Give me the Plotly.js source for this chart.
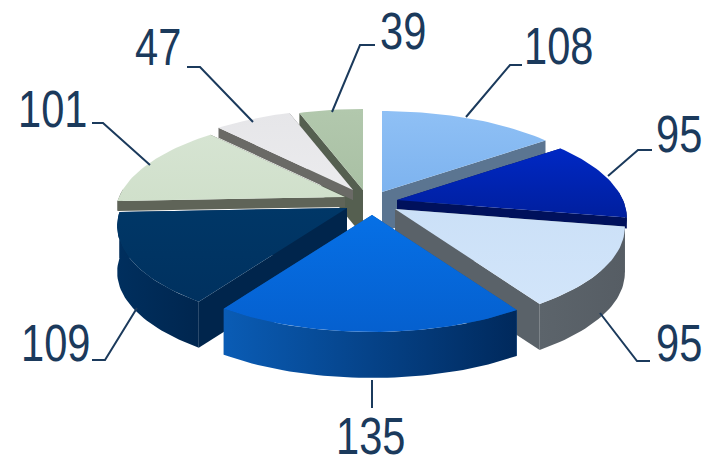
<!DOCTYPE html>
<html><head><meta charset="utf-8">
<script src="https://cdn.plot.ly/plotly-3.0.1.min.js"></script>
<style>html,body{margin:0;padding:0;background:#fff}#c{width:705px;height:458px}
.annotation-text{transform-box:fill-box;transform-origin:center;transform:scaleX(.8)}</style>
</head><body><div id="c"></div>
<script>
// Data, clockwise from 12 o'clock
const values = [108, 95, 95, 135, 109, 101, 47, 39];
const tickLabels = ["108", "95", "95", "135", "109", "101", "47", "39"];

// Styling / placement
const apexX = [382, 397, 395, 372, 347, 345, 353, 363];
const apexY = [192, 200, 209, 215, 208, 197, 190, 190];
const topColors = [
  ["#7db3ef","#8fc0f5"], ["#001f9e","#0028c4"], ["#d2e5fa","#cbe0f7"], ["#0560cf","#0670e6"],
  ["#00315f","#003767"], ["#d0e0cb","#d6e4d2"], ["#ebebed","#e6e6e9"], ["#a9c0a4","#b2c8ad"]];
const wallColors = ["#5b7591","#00115c","#5a6269","#0a4f9a","#00254c","#5f6458","#6a6a66","#555f50"];
const outerColors = [
  ["#5b7591","#5b7591"], ["#00115c","#00115c"], ["#5c646b","#565d64"], ["#0a5cb5","#00295c"],
  ["#002f5e","#00264f"], ["#5f6458","#5f6458"], ["#6a6a66","#6a6a66"], ["#555f50","#555f50"]];
const sliceDepth = [40, 11, 46, 46, 46, 10, 10, 46];
const drawOrder = [7, 6, 0, 5, 1, 4, 2, 3];
const R = 226, Ry = 95.7, K = 0.182;
const labelX = [558, 679, 679, 370, 55, 52, 158, 403];
const labelY = [46, 134, 343, 436, 343, 109, 47, 31];
const leaders = [
  [[466,117],[510,65],[522,65]],
  [[608,176],[638,150],[652,150]],
  [[600,313],[637,361],[650,361]],
  [[372,380],[372,408]],
  [[137,308],[105,360],[92,360]],
  [[150,165],[103,123],[92,123]],
  [[253,122],[200,67],[187,67]],
  [[332,112],[360,45],[375,45]]
];

const total = values.reduce((a, b) => a + b, 0);
function proj(t) {
  const a = t * Math.PI / 180, X = Math.sin(a), Y = Math.cos(a), w = 1 + K * Y;
  return [R * X / w, -Ry * Y / w];
}
function arc(i, t0, t1, dy) {
  const n = Math.max(2, Math.ceil((t1 - t0) / 1.5)), p = [];
  for (let j = 0; j <= n; j++) {
    const q = proj(t0 + (t1 - t0) * j / n);
    p.push([apexX[i] + q[0], apexY[i] + q[1] + dy]);
  }
  return p;
}
function poly(pts, cols, type) {
  const closed = pts.concat([pts[0]]);
  return {
    type: "scatter", mode: "lines", hoverinfo: "skip", showlegend: false,
    x: closed.map(p => p[0]), y: closed.map(p => p[1]),
    line: { width: 0, color: cols[0] }, fill: "toself",
    fillgradient: { type: type || "horizontal", colorscale: [[0, cols[0]], [1, cols[1]]] }
  };
}
const start = [];
values.reduce((acc, v, i) => { start[i] = acc; return acc + v / total * 360; }, 0);

const traces = [];
drawOrder.forEach(i => {
  const t0 = start[i], t1 = t0 + values[i] / total * 360, D = sliceDepth[i];
  const A = [apexX[i], apexY[i]], Ad = [apexX[i], apexY[i] + D];
  const a = arc(i, t0, t1, 0);
  const e0 = a[0], e1 = a[a.length - 1];
  const w = [wallColors[i], wallColors[i]];
  traces.push(poly([A, e0, [e0[0], e0[1] + D], Ad], w));
  traces.push(poly([A, e1, [e1[0], e1[1] + D], Ad], w));
  const s0 = Math.max(t0, 85), s1 = Math.min(t1, 275);
  if (s1 > s0) {
    const up = arc(i, s0, s1, 0), dn = arc(i, s0, s1, D).reverse();
    traces.push(poly(up.concat(dn), outerColors[i]));
  }
  traces.push(poly([A].concat(a), topColors[i], "vertical"));
});

const ink = "#1b3a5c";
const shapes = leaders.map(l => ({
  type: "path", xref: "x", yref: "y",
  path: l.map((p, j) => (j ? "L" : "M") + p[0] + "," + p[1]).join(" "),
  line: { color: ink, width: 2 }
}));
const annotations = tickLabels.map((s, i) => ({
  x: labelX[i], y: labelY[i], xref: "x", yref: "y", text: s, showarrow: false,
  xanchor: "center", yanchor: "middle",
  font: { family: "'Liberation Sans',Arial,sans-serif", size: 52, color: ink }
}));

Plotly.newPlot("c", traces, {
  width: 705, height: 458, margin: { l: 0, r: 0, t: 0, b: 0 },
  paper_bgcolor: "#fff", plot_bgcolor: "#fff", showlegend: false, hovermode: false,
  xaxis: { range: [0, 705], visible: false, fixedrange: true },
  yaxis: { range: [458, 0], visible: false, fixedrange: true },
  shapes, annotations
}, { displayModeBar: false, staticPlot: true });
</script></body></html>
